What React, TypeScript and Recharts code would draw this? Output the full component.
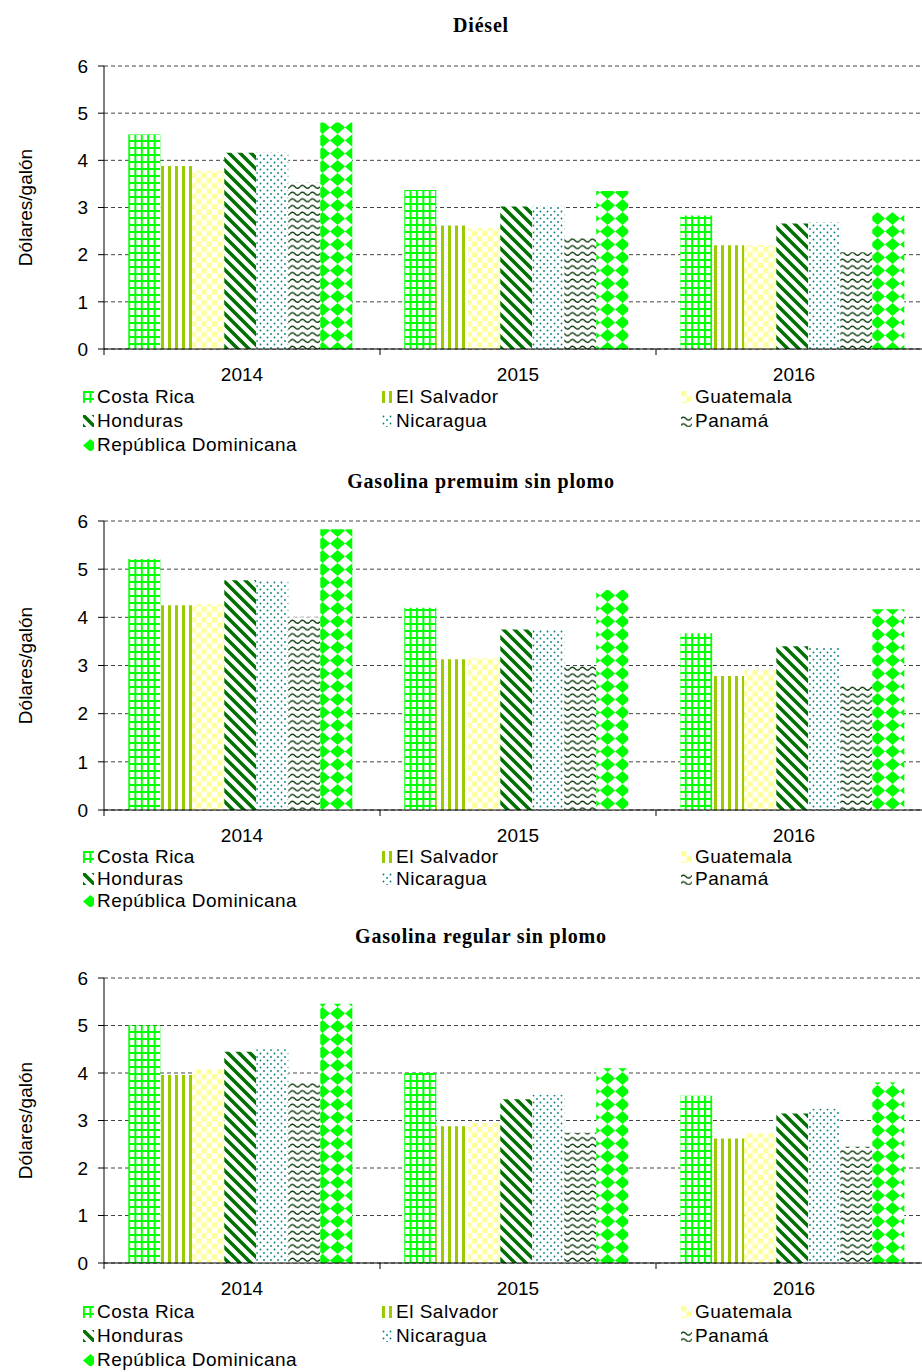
import { BarChart, Bar, XAxis, YAxis, CartesianGrid, Legend } from 'recharts';

const years = ['2014', '2015', '2016'];
const countries = ['Costa Rica', 'El Salvador', 'Guatemala', 'Honduras', 'Nicaragua', 'Panamá', 'República Dominicana'];
const yTicks = [0, 1, 2, 3, 4, 5, 6];

// one row per country (same order as `countries`), one value per year, dólares/galón
const diesel = [
  [4.55, 3.37, 2.83],
  [3.88, 2.62, 2.2],
  [3.78, 2.56, 2.2],
  [4.16, 3.02, 2.66],
  [4.16, 3.04, 2.68],
  [3.53, 2.36, 2.05],
  [4.8, 3.35, 2.9],
];

const premium = [
  [5.21, 4.2, 3.67],
  [4.25, 3.13, 2.78],
  [4.27, 3.15, 2.91],
  [4.77, 3.75, 3.4],
  [4.77, 3.76, 3.39],
  [4.0, 2.99, 2.59],
  [5.83, 4.57, 4.17],
];

const regular = [
  [5.0, 4.0, 3.52],
  [3.96, 2.88, 2.62],
  [4.08, 2.95, 2.73],
  [4.45, 3.45, 3.15],
  [4.5, 3.54, 3.25],
  [3.79, 2.74, 2.45],
  [5.46, 4.1, 3.8],
];

const patternIds = ['p-cr', 'p-sv', 'p-gt', 'p-hn', 'p-ni', 'p-pa', 'p-do'];

const FONT = '"Liberation Sans", Arial, sans-serif';

function toRows(values: number[][]) {
  return years.map((year, i) => {
    const row: Record<string, string | number> = { year };
    countries.forEach((c, k) => {
      row[c] = values[k][i];
    });
    return row;
  });
}

function Patterns() {
  return (
    <svg width={0} height={0} style={{ position: 'absolute' }}>
      <defs>
        <pattern id="p-cr" width={6.4} height={7} patternUnits="userSpaceOnUse">
          <rect width={6.4} height={7} fill="#fff" />
          <rect width={2} height={7} fill="#00ff00" />
          <rect width={6.4} height={2} fill="#00ff00" />
        </pattern>
        <pattern id="p-sv" width={7} height={7} patternUnits="userSpaceOnUse">
          <rect width={7} height={7} fill="#fff" />
          <rect width={3} height={7} fill="#99cc00" />
        </pattern>
        <pattern id="p-gt" width={10.6} height={10.6} patternUnits="userSpaceOnUse">
          <rect width={10.6} height={10.6} fill="#fff" />
          <rect width={5.3} height={5.3} fill="#ffff99" />
          <rect x={5.3} y={5.3} width={5.3} height={5.3} fill="#ffff99" />
        </pattern>
        <pattern id="p-hn" width={11} height={11} patternUnits="userSpaceOnUse">
          <rect width={11} height={11} fill="#fff" />
          <path d="M-3,-3 L14,14 M-3,8 L3,14 M8,-3 L14,3" stroke="#007000" strokeWidth={3.5} />
        </pattern>
        <pattern id="p-ni" width={7} height={7} patternUnits="userSpaceOnUse">
          <rect width={7} height={7} fill="#fff" />
          <circle cx={1.5} cy={1.5} r={0.9} fill="#008080" />
          <circle cx={5} cy={5} r={0.9} fill="#008080" />
        </pattern>
        <pattern id="p-pa" width={10} height={6.7} patternUnits="userSpaceOnUse">
          <rect width={10} height={6.7} fill="#fff" />
          <path d="M0,3.6 Q2.5,0.6 5,3.6 T10,3.6" fill="none" stroke="#0b3b0b" strokeWidth={1.4} />
        </pattern>
        <pattern id="p-do" width={15} height={13} patternUnits="userSpaceOnUse">
          <rect width={15} height={13} fill="#fff" />
          <polygon points="7.5,0 15,6.5 7.5,13 0,6.5" fill="#00ff00" />
        </pattern>
      </defs>
    </svg>
  );
}

function YearTick(props: any) {
  const { x, y, payload, index } = props;
  const half = payload && payload.offset ? payload.offset : 138;
  return (
    <g>
      <line x1={x - half} x2={x - half} y1={y} y2={y + 6} stroke="#000" />
      {index === years.length - 1 && <line x1={x + half} x2={x + half} y1={y} y2={y + 6} stroke="#000" />}
      <text x={x} y={y + 25} textAnchor="middle" dy="0.35em" fontSize={19} fill="#000" fontFamily={FONT}>
        {payload.value}
      </text>
    </g>
  );
}

function YTitle(props: any) {
  const vb = props.viewBox || { y: 0, height: 0 };
  const cy = vb.y + vb.height / 2;
  return (
    <text
      x={25}
      y={cy}
      transform={`rotate(-90, 25, ${cy})`}
      textAnchor="middle"
      dominantBaseline="central"
      fontSize={19}
      fill="#000"
      fontFamily={FONT}
    >
      Dólares/galón
    </text>
  );
}

function LegendBox({ payload, height, firstRow, rowHeight }: any) {
  return (
    <div style={{ position: 'relative', width: '100%', height }}>
      {(payload || []).map((entry: any, i: number) => {
        const col = i % 3;
        const row = Math.floor(i / 3);
        return (
          <div
            key={entry.value}
            style={{
              position: 'absolute',
              left: 83 + col * 299,
              top: firstRow + row * rowHeight - 12,
              height: 24,
              display: 'flex',
              alignItems: 'center',
              whiteSpace: 'nowrap',
              fontFamily: FONT,
              fontSize: 19,
              letterSpacing: 0.5,
              color: '#000',
            }}
          >
            <svg width={11} height={12} style={{ marginRight: 3 }}>
              <rect width={11} height={12} fill={entry.color} />
            </svg>
            {entry.value}
          </div>
        );
      })}
    </div>
  );
}

interface FuelChartProps {
  title: string;
  values: number[][];
  titleTop: number;
  top: number;
  plotHeight: number;
  legendHeight: number;
  firstRow: number;
  rowHeight: number;
}

function FuelChart({ title, values, titleTop, top, plotHeight, legendHeight, firstRow, rowHeight }: FuelChartProps) {
  const data = toRows(values);
  const height = 10 + plotHeight + 30 + legendHeight;
  return (
    <>
      <div
        style={{
          position: 'absolute',
          left: 0,
          width: 962,
          top: titleTop - 12,
          lineHeight: '24px',
          textAlign: 'center',
          fontFamily: '"Liberation Serif", "Times New Roman", serif',
          fontWeight: 'bold',
          fontSize: 20,
          letterSpacing: 0.8,
        }}
      >
        {title}
      </div>
      <div style={{ position: 'absolute', left: 0, top }}>
        <BarChart
          width={940}
          height={height}
          data={data}
          margin={{ top: 10, right: 8, left: 0, bottom: 0 }}
          barCategoryGap="8.8%"
          barGap={0}
        >
          <CartesianGrid vertical={false} stroke="#444" strokeDasharray="4 3" />
          <XAxis
            dataKey="year"
            height={30}
            axisLine={{ stroke: '#000' }}
            tickLine={false}
            tickSize={0}
            tickMargin={0}
            interval={0}
            tick={<YearTick />}
          />
          <YAxis
            width={104}
            domain={[0, 6]}
            ticks={yTicks}
            interval={0}
            axisLine={{ stroke: '#000' }}
            tickLine={{ stroke: '#000' }}
            tickSize={6}
            tickMargin={10}
            tick={{ fill: '#000', fontSize: 19, fontFamily: FONT }}
            label={<YTitle />}
          />
          <Legend
            verticalAlign="bottom"
            content={(p: any) => (
              <LegendBox payload={p.payload} height={legendHeight} firstRow={firstRow} rowHeight={rowHeight} />
            )}
          />
          {countries.map((c, k) => (
            <Bar key={c} dataKey={c} fill={`url(#${patternIds[k]})`} isAnimationActive={false} />
          ))}
        </BarChart>
      </div>
    </>
  );
}

export default function App() {
  return (
    <div
      style={{
        position: 'absolute',
        left: 0,
        top: 0,
        width: 922,
        height: 1372,
        overflow: 'hidden',
        background: '#fff',
        fontFamily: FONT,
      }}
    >
      <Patterns />
      <FuelChart
        title="Diésel"
        values={diesel}
        titleTop={25}
        top={56}
        plotHeight={283}
        legendHeight={80}
        firstRow={18}
        rowHeight={24}
      />
      <FuelChart
        title="Gasolina premuim sin plomo"
        values={premium}
        titleTop={481}
        top={511}
        plotHeight={289}
        legendHeight={72}
        firstRow={17}
        rowHeight={22}
      />
      <FuelChart
        title="Gasolina regular sin plomo"
        values={regular}
        titleTop={936}
        top={968}
        plotHeight={285}
        legendHeight={78}
        firstRow={19}
        rowHeight={24}
      />
    </div>
  );
}
